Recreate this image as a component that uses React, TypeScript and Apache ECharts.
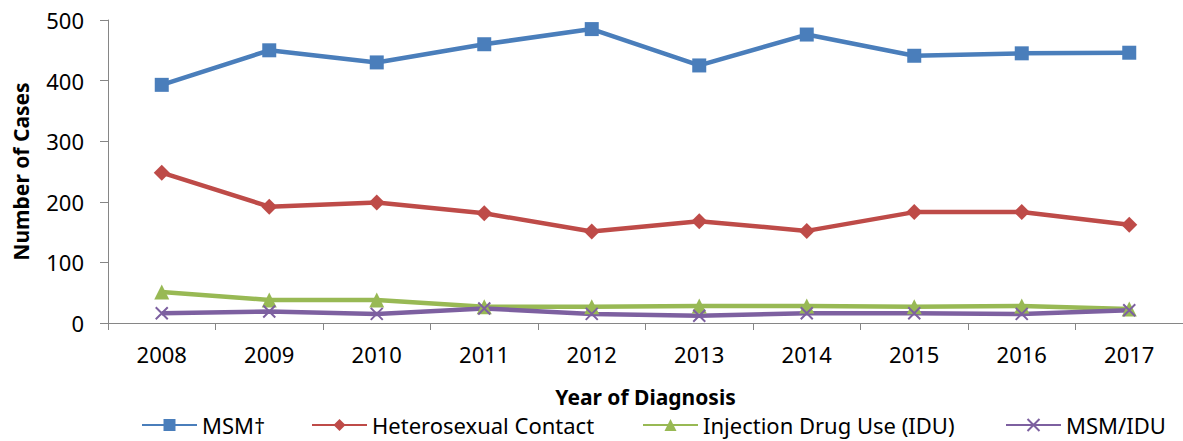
import React, { useEffect, useRef } from "react";
import * as echarts from "echarts";

const years = ["2008", "2009", "2010", "2011", "2012", "2013", "2014", "2015", "2016", "2017"];
const msm = [393, 450, 430, 460, 485, 425, 476, 441, 445, 446];
const hetero = [248, 192, 199, 181, 151, 168, 152, 183, 183, 162];
const idu = [51, 38, 38, 27, 27, 28, 28, 27, 28, 23];
const msmIdu = [16, 19, 15, 24, 15, 12, 16, 16, 15, 21];
const seriesNames = ["MSM\u2020", "Heterosexual Contact", "Injection Drug Use (IDU)", "MSM/IDU"];
const yTicks = { min: 0, max: 500, interval: 100 };

const FONT = "'Noto Sans', 'Open Sans', sans-serif";
const X_SYMBOL = "path://M0,0L10,10M10,0L0,10";
const legendLefts = [141, 311, 642, 1005];

export default function App() {
  const ref = useRef<HTMLDivElement>(null);
  useEffect(() => {
    if (!ref.current) return;
    const chart = echarts.init(ref.current, undefined, { renderer: "svg" });
    const mk = (name: string, data: number[], color: string, symbol: string, size: number, extra: any = {}) => ({
      name,
      type: "line",
      data,
      symbol,
      symbolSize: size,
      lineStyle: { color, width: 4.5 },
      itemStyle: { color, ...extra },
      z: 2,
    });
    chart.setOption({
      animation: false,
      textStyle: { fontFamily: FONT },
      grid: { left: 108, right: 0, top: 20, bottom: 118, containLabel: false },
      legend: seriesNames.map((n, i) => ({
        left: legendLefts[i],
        top: 412,
        padding: 0,
        itemWidth: 55,
        itemHeight: 15,
        itemGap: 0,
        textStyle: { fontSize: 22, lineHeight: 26, color: "#000", fontFamily: FONT },
        data: [n],
      })),
      xAxis: {
        type: "category",
        data: years,
        boundaryGap: true,
        name: "Year of Diagnosis",
        nameLocation: "middle",
        nameGap: 63,
        nameTextStyle: { fontSize: 21, fontWeight: "bold", color: "#000", fontFamily: FONT },
        axisLine: { lineStyle: { color: "#868686", width: 1 } },
        axisTick: { show: true, length: 7, alignWithLabel: false, lineStyle: { color: "#868686" } },
        axisLabel: { fontSize: 22, color: "#000", margin: 20, fontFamily: FONT },
        splitLine: { show: false },
      },
      yAxis: {
        type: "value",
        min: yTicks.min,
        max: yTicks.max,
        interval: yTicks.interval,
        name: "Number of Cases",
        nameLocation: "middle",
        nameGap: 77,
        nameTextStyle: { fontSize: 21, fontWeight: "bold", color: "#000", fontFamily: FONT },
        axisLine: { show: true, lineStyle: { color: "#868686", width: 1 } },
        axisTick: { show: true, length: 8, inside: false, lineStyle: { color: "#868686" } },
        axisLabel: { fontSize: 22, color: "#000", margin: 24, fontFamily: FONT },
        splitLine: { show: false },
      },
      series: [
        mk(seriesNames[0], msm, "#4A7EBB", "rect", 14),
        mk(seriesNames[1], hetero, "#BE4B48", "diamond", 16),
        mk(seriesNames[2], idu, "#98B954", "triangle", 15),
        mk(seriesNames[3], msmIdu, "#7D60A0", X_SYMBOL, 12, { borderColor: "#7D60A0", borderWidth: 2 }),
      ],
    });
    return () => chart.dispose();
  }, []);
  return (
    <div
      ref={ref}
      style={{ position: "fixed", left: 0, top: 0, width: 1183, height: 441, background: "#fff" }}
    />
  );
}
